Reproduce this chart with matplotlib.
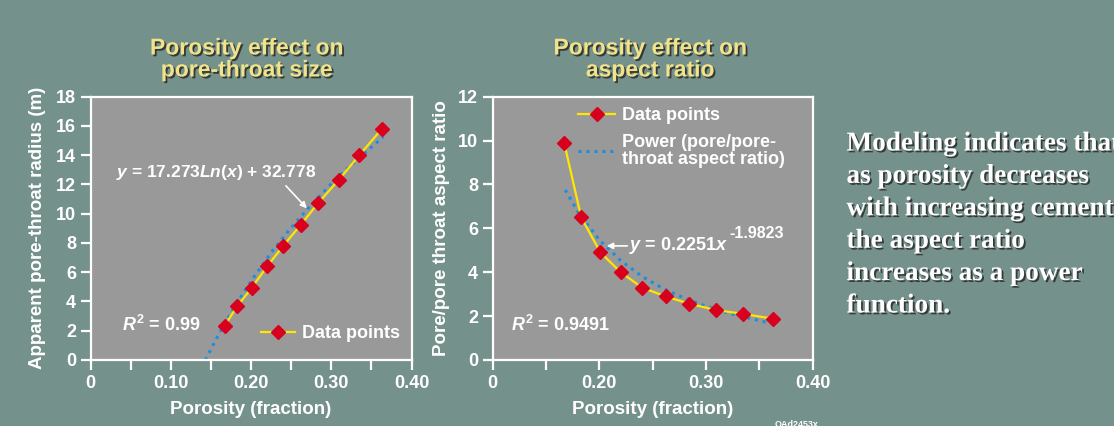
import matplotlib
matplotlib.use("Agg")
import matplotlib.pyplot as plt
import matplotlib.patheffects as pe
from matplotlib.lines import Line2D

plt.rcParams["font.family"] = ["Liberation Sans", "DejaVu Sans"]
plt.rcParams["font.weight"] = "bold"
plt.rcParams["mathtext.fontset"] = "custom"
plt.rcParams["mathtext.it"] = "Liberation Sans:italic:bold"
plt.rcParams["mathtext.rm"] = "Liberation Sans:bold"
plt.rcParams["mathtext.bf"] = "Liberation Sans:bold"

# measured porosity (shared by both panels)
porosity = [0.167, 0.183, 0.201, 0.220, 0.240, 0.262, 0.284, 0.309, 0.335, 0.363]
radius = [2.35, 3.7, 4.95, 6.4, 7.8, 9.25, 10.75, 12.3, 14.0, 15.8]
aspect = [9.9, 6.5, 4.9, 4.0, 3.3, 2.9, 2.57, 2.28, 2.1, 1.88]

# trend lines
log_x = [0.143, 0.16, 0.18, 0.20, 0.225, 0.25, 0.275, 0.30, 0.325, 0.35, 0.365]
log_y = [0.0, 1.8, 3.7, 5.4, 7.35, 9.05, 10.6, 12.05, 13.35, 14.55, 15.25]
pow_x = [0.168, 0.18, 0.20, 0.22, 0.24, 0.26, 0.28, 0.30, 0.32, 0.34, 0.3625]
pow_y = [7.75, 6.74, 5.47, 4.53, 3.81, 3.25, 2.81, 2.45, 2.15, 1.91, 1.65]

BG = "#74918b"
PANEL = "#999999"
YELLOW = "#ffe600"
RED = "#d8001c"
BLUE = "#1a8ee0"
TITLE = "#f0e38a"

W, H = 1114, 426
fig = plt.figure(figsize=(W / 100, H / 100), dpi=100, facecolor=BG)


def px_axes(x0, y0, x1, y1):
    return fig.add_axes([x0 / W, 1 - y1 / H, (x1 - x0) / W, (y1 - y0) / H])


def style(ax):
    ax.set_facecolor(PANEL)
    for s in ax.spines.values():
        s.set_color("white")
        s.set_linewidth(1.6)
    ax.tick_params(colors="white", labelcolor="white", length=7, width=1.6,
                   labelsize=13, pad=3.5)
    for lab in ax.get_xticklabels() + ax.get_yticklabels():
        lab.set_fontweight("bold")


shadow = [pe.withSimplePatchShadow(offset=(1.3, -1.3), shadow_rgbFace="#2a2a2a", alpha=0.85)]

# ---- left panel ----
ax1 = px_axes(90.7, 96.7, 411.5, 360)
ax1.plot(log_x, log_y, ls=(0, (1, 1.6)), color=BLUE, lw=2.2, zorder=2)
ax1.plot(porosity, radius, color=YELLOW, lw=1.6, marker="D", ms=7.5,
         mfc=RED, mec=RED, zorder=3)
ax1.set_xlim(0, 0.40)
ax1.set_ylim(0, 18)
ax1.set_xticks([0, 0.05, 0.10, 0.15, 0.20, 0.25, 0.30, 0.35, 0.40])
ax1.set_xticklabels(["0", "", "0.10", "", "0.20", "", "0.30", "", "0.40"])
ax1.set_yticks(range(0, 19, 2))
style(ax1)
ax1.set_xlabel("Porosity (fraction)", color="white", fontsize=13.5, fontweight="bold")
ax1.set_ylabel("Apparent pore-throat radius (m)", color="white", fontsize=13.5,
               fontweight="bold")
ax1.xaxis.set_label_coords(0.5, -0.155)
ax1.yaxis.set_label_coords(-0.14, 0.5)
ax1.text(0.0315, 12.8, r"$y$ = 17.273$Ln$($x$) + 32.778", color="white",
         fontsize=12.5, fontweight="bold", va="center", ha="left")
ax1.annotate("", xy=(0.2695, 10.37), xytext=(0.2434, 11.91),
             arrowprops=dict(arrowstyle="-|>", color="white", lw=1.2,
                             mutation_scale=9, shrinkA=0, shrinkB=0))
ax1.text(0.039, 2.4, r"$R^2$ = 0.99", color="white", fontsize=13,
         fontweight="bold", va="center", ha="left")
ax1.legend(handles=[Line2D([], [], color=YELLOW, lw=1.6, marker="D", ms=7.5,
                           mfc=RED, mec=RED)],
           labels=["Data points"], loc="center left", bbox_to_anchor=(0.53, 0.1),
           frameon=False, handlelength=1.9, handletextpad=0.4, borderpad=0,
           borderaxespad=0, labelcolor="white",
           prop={"size": 13, "weight": "bold"})

# ---- right panel ----
ax2 = px_axes(492.7, 96.7, 812.7, 360)
ax2.plot(pow_x, pow_y, ls=(0, (1, 1.6)), color=BLUE, lw=2.2, zorder=2)
ax2.plot(porosity, aspect, color=YELLOW, lw=1.6, marker="D", ms=7.5,
         mfc=RED, mec=RED, zorder=3)
ax2.set_xlim(0.10, 0.40)
ax2.set_ylim(0, 12)
ax2.set_xticks([0.10, 0.15, 0.20, 0.25, 0.30, 0.35, 0.40])
ax2.set_xticklabels(["0", "", "0.20", "", "0.30", "", "0.40"])
ax2.set_yticks(range(0, 13, 2))
style(ax2)
ax2.set_xlabel("Porosity (fraction)", color="white", fontsize=13.5, fontweight="bold")
ax2.set_ylabel("Pore/pore throat aspect ratio", color="white", fontsize=13.5,
               fontweight="bold")
ax2.xaxis.set_label_coords(0.5, -0.155)
ax2.yaxis.set_label_coords(-0.135, 0.5)
ax2.annotate("", xy=(0.2069, 5.2), xytext=(0.2262, 5.2),
             arrowprops=dict(arrowstyle="-|>", color="white", lw=1.2,
                             mutation_scale=9, shrinkA=0, shrinkB=0))
eq = ax2.text(0.2281, 5.2, r"$y$ = 0.2251$x$", color="white", fontsize=13,
              fontweight="bold", va="center", ha="left")
ax2.annotate("-1.9823", xy=(1, 0.5), xycoords=eq, xytext=(1, 12),
             textcoords="offset pixels", color="white", fontsize=11.5,
             fontweight="bold", va="center", ha="left")
ax2.text(0.117, 1.6, r"$R^2$ = 0.9491", color="white", fontsize=13,
         fontweight="bold", va="center", ha="left")
leg = ax2.legend(handles=[Line2D([], [], color=YELLOW, lw=1.6, marker="D", ms=7.5,
                                 mfc=RED, mec=RED),
                          Line2D([], [], color=BLUE, lw=2.2, ls=(0, (1, 1.6)))],
                 labels=["Data points", "Power (pore/pore-\nthroat aspect ratio)"],
                 loc="upper left", bbox_to_anchor=(0.268, 0.96),
                 frameon=False, handlelength=2.0, handletextpad=0.4, borderpad=0,
                 borderaxespad=0, labelspacing=0.55, labelcolor="white",
                 prop={"size": 13, "weight": "bold"})
leg.get_texts()[1].set_linespacing(0.95)

# ---- titles ----
for cx, lines in [(246.5, ["Porosity effect on", "pore-throat size"]),
                  (650, ["Porosity effect on", "aspect ratio"])]:
    for cy, s in zip([48, 70], lines):
        fig.text(cx / W, 1 - cy / H, s, color=TITLE, fontsize=16.5,
                 fontweight="bold", ha="center", va="center", path_effects=shadow)

# ---- side note (cut at the right edge as in the original slide) ----
note = ["Modeling indicates that", "as porosity decreases", "with increasing cement,",
        "the aspect ratio", "increases as a power", "function."]
for i, s in enumerate(note):
    fig.text(846.5 / W, 1 - (144 + 32.4 * i) / H, s, color="white",
             family=["Liberation Serif", "DejaVu Serif"], fontsize=19.6,
             fontweight="bold", ha="left", va="center", path_effects=shadow)

fig.text(775 / W, 1 - 424.5 / H, "OAd2453x", color="white", fontsize=6.5,
         ha="left", va="center")

fig.savefig("out.png", dpi=100, facecolor=BG)
